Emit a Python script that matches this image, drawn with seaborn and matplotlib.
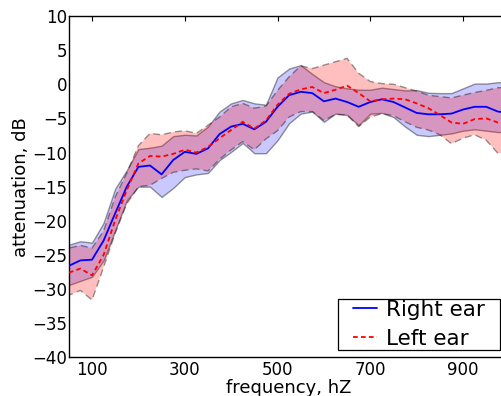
import numpy as np
import pandas as pd
import matplotlib
matplotlib.use("Agg")
import matplotlib.pyplot as plt
from matplotlib.path import Path
import seaborn as sns

freq = [50, 75, 100, 125, 150, 175, 200, 225, 250, 275, 300, 325, 350, 375, 400,
        425, 450, 475, 500, 525, 550, 575, 600, 625, 650, 675, 700, 725, 750, 775,
        800, 825, 850, 875, 900, 925, 950, 975, 1000]

right_mean = [-26.6, -25.8, -25.7, -22.9, -18.9, -15.0, -12.1, -11.9, -13.2, -11.1, -9.9, -10.2, -9.4, -7.3, -6.2,
              -5.8, -6.6, -5.5, -3.3, -1.6, -1.1, -1.3, -2.5, -2.1, -2.6, -3.3, -2.6, -2.2, -2.6, -3.4,
              -4.2, -4.4, -4.4, -4.3, -3.7, -3.3, -3.3, -4.0, -4.2]
right_upper = [-23.5, -23.0, -23.2, -20.3, -15.3, -12.6, -9.5, -9.3, -9.0, -7.6, -7.4, -7.5, -6.2, -4.0, -2.8,
               -2.3, -2.8, -3.0, 1.0, 2.3, 2.8, 1.5, 0.3, -0.3, -0.6, -0.8, -0.8, -0.5, -0.7, -0.9,
               -0.85, -1.25, -1.3, -1.3, -0.6, 0.1, 0.1, 0.3, 0.3]
right_lower = [-29.4, -28.8, -28.2, -25.8, -21.4, -17.0, -15.0, -15.0, -16.5, -15.2, -13.6, -13.2, -13.0, -11.1, -9.9,
               -8.6, -10.1, -10.1, -8.2, -5.7, -4.3, -4.0, -5.5, -4.3, -4.5, -6.0, -4.3, -4.2, -4.8, -6.2,
               -7.4, -7.6, -7.4, -7.2, -6.8, -6.6, -6.8, -7.0, -7.0]

left_mean = [-27.6, -27.0, -28.0, -25.0, -19.9, -15.5, -11.6, -10.5, -10.6, -10.2, -9.6, -10.0, -9.2, -7.9, -6.7,
             -5.5, -6.5, -5.3, -3.0, -1.4, -0.75, -0.4, -1.3, -0.8, -0.2, -1.3, -2.5, -2.2, -2.1, -2.2,
             -2.8, -3.5, -4.5, -5.6, -5.8, -5.1, -5.0, -5.6, -5.8]
left_upper = [-24.0, -23.6, -24.0, -21.5, -16.5, -13.0, -9.0, -7.2, -7.4, -7.0, -6.8, -7.2, -6.0, -4.8, -3.3,
              -2.8, -3.5, -3.2, -0.9, 1.1, 2.7, 2.3, 2.8, 3.3, 3.8, 1.6, 0.4, 0.1, 0.0, -0.5,
              -1.0, -1.6, -1.8, -2.0, -1.6, -1.2, -0.9, -0.5, -0.5]
left_lower = [-30.9, -30.2, -31.6, -26.8, -21.8, -17.5, -15.0, -14.8, -13.8, -12.9, -12.6, -12.4, -12.7, -11.0, -9.6,
              -8.4, -9.6, -8.0, -6.8, -4.8, -4.0, -4.0, -5.3, -4.4, -4.5, -6.2, -4.8, -4.3, -4.6, -5.5,
              -6.3, -6.7, -7.4, -8.7, -7.9, -7.4, -8.2, -10.1, -10.0]

ears = ["Right ear", "Left ear"]
x_ticks = [100, 300, 500, 700, 900]
y_ticks = [-40, -35, -30, -25, -20, -15, -10, -5, 0, 5, 10]

df = pd.DataFrame({
    "freq": freq + freq,
    "atten": right_mean + left_mean,
    "ear": [ears[0]] * len(freq) + [ears[1]] * len(freq),
})

sns.set_style("white")
plt.rcParams["font.family"] = ["DejaVu Sans"]
plt.rcParams["xtick.direction"] = "in"
plt.rcParams["ytick.direction"] = "in"
plt.rcParams["text.color"] = "black"
plt.rcParams["axes.labelcolor"] = "black"
plt.rcParams["xtick.color"] = "black"
plt.rcParams["ytick.color"] = "black"

fig = plt.figure(figsize=(5.02, 3.96), dpi=100)
ax = fig.add_axes([0.1371, 0.0977, 0.8777, 0.8619])

ax.fill_between(freq, right_lower, right_upper, facecolor=(0, 0, 1, 0.21),
                edgecolor=(0, 0, 0, 0.4), linewidth=1.0, linestyle="-", zorder=1)
ax.fill_between(freq, left_lower, left_upper, facecolor=(1, 0, 0, 0.25),
                edgecolor=(0, 0, 0, 0.4), linewidth=1.0, linestyle=(0, (5, 3)), zorder=1)

sns.lineplot(data=df, x="freq", y="atten", hue="ear", style="ear",
             hue_order=ears, style_order=ears,
             palette={"Right ear": "#0000ff", "Left ear": "#ff0000"},
             dashes={"Right ear": "", "Left ear": (2.6, 1.8)},
             linewidth=1.3, legend=False, ax=ax, zorder=3)

ax.set_xlim(50, 1000)
ax.set_ylim(-40, 10)
ax.set_xticks(x_ticks)
ax.set_yticks(y_ticks)
ax.tick_params(axis="both", which="major", labelsize=12, length=3.5, width=0.8,
               top=True, right=True, color="black")
ax.tick_params(axis="x", pad=2.5)
ax.tick_params(axis="y", pad=1.0)
ax.set_xlabel("frequency, hZ", fontsize=13, labelpad=0)
ax.set_ylabel("attenuation, dB", fontsize=13, labelpad=1.5)
for s in ax.spines.values():
    s.set_color("black")
    s.set_linewidth(1.0)


def legend_box(x0, y0, width, height, mutation_size):
    padx = 0.7 * mutation_size
    pady = 0.05 * mutation_size
    xa, xb = x0 - padx, x0 + width + padx
    ya, yb = y0 - pady, y0 + height + pady
    return Path([(xa, ya), (xb, ya), (xb, yb), (xa, yb), (xa, ya)], closed=True)


fs_px = 15.5 * 100 / 72.0
ax_w_px = 0.8777 * 502
ax_h_px = 0.8619 * 396
anchor_x = 1 - (9.4 + 0.7 * fs_px) / ax_w_px
anchor_y = (7.3 + 0.05 * fs_px) / ax_h_px

lines = ax.get_lines()[:2]
leg = ax.legend(lines, ears, loc="lower right", bbox_to_anchor=(anchor_x, anchor_y),
                fontsize=15.5, frameon=True, fancybox=False, shadow=False,
                framealpha=1, edgecolor="black",
                handlelength=1.09, handletextpad=0.43, borderpad=0.0,
                labelspacing=0.42, borderaxespad=0.0)
leg.get_frame().set_boxstyle(legend_box)
leg.get_frame().set_linewidth(0.9)

fig.savefig("out.png", dpi=100)
